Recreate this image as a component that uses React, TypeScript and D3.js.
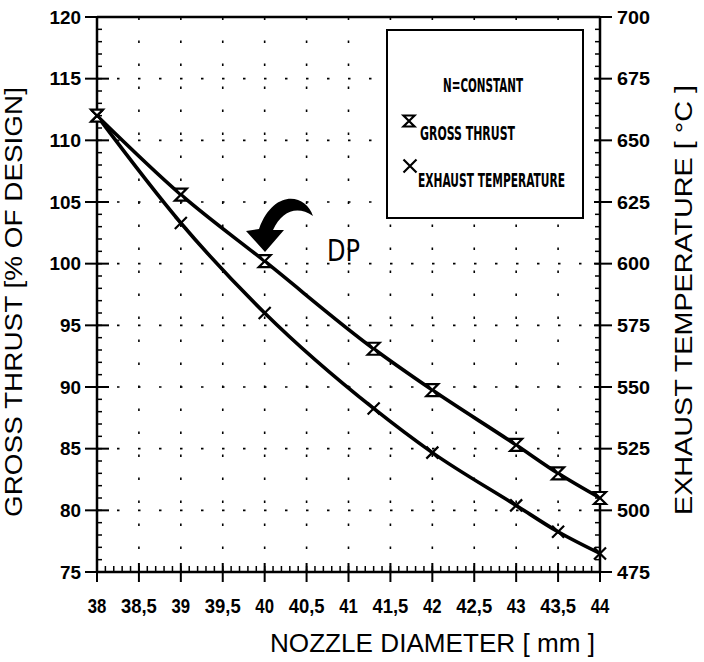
import * as d3 from "d3";

// nozzle diameter [mm] where the markers sit
const thrustX = [38, 39, 40, 41.3, 42, 43, 43.5, 44];
const thrustVal = [112, 105.6, 100.2, 93.1, 89.75, 85.3, 83.0, 81.0]; // % of design
const tempX = [38, 39, 40, 41.3, 42, 43, 43.5, 44];
const tempVal = [660, 616.5, 580, 541.3, 523.4, 502, 491.3, 482.5]; // °C

const xTicks = [38, 38.5, 39, 39.5, 40, 40.5, 41, 41.5, 42, 42.5, 43, 43.5, 44];
const leftTicks = [75, 80, 85, 90, 95, 100, 105, 110, 115, 120];
const rightTicks = [475, 500, 525, 550, 575, 600, 625, 650, 675, 700];

const W = 704;
const H = 662;
const PLOT = { left: 97, right: 600, top: 17, bottom: 572 };
const FONT = "'Liberation Sans', Arial, Helvetica, sans-serif";
const NARROW = "'Liberation Sans Narrow', 'DejaVu Sans Condensed', 'Arial Narrow', sans-serif";

const x = d3.scaleLinear().domain([38, 44]).range([PLOT.left, PLOT.right]);
const yL = d3.scaleLinear().domain([75, 120]).range([PLOT.bottom, PLOT.top]);
const yR = d3.scaleLinear().domain([475, 700]).range([PLOT.bottom, PLOT.top]);

const fmtX = (v: number) => String(v).replace(".", ",");
// label width: digits are narrow in the original, commas take a little room
const xLabelLen = (s: string) => s.replace(",", "").length * 9.3 + (s.includes(",") ? 8 : 0);

function Hourglass({ cx, cy, s = 6 }: { cx: number; cy: number; s?: number }) {
  const d = `M${cx - s},${cy - s} L${cx + s},${cy - s} L${cx},${cy} Z M${cx - s},${cy + s} L${cx + s},${cy + s} L${cx},${cy} Z`;
  return <path d={d} fill="white" stroke="black" strokeWidth={2.2} />;
}

function Cross({ cx, cy, s = 6 }: { cx: number; cy: number; s?: number }) {
  const d = `M${cx - s},${cy - s} L${cx + s},${cy + s} M${cx + s},${cy - s} L${cx - s},${cy + s}`;
  return <path d={d} stroke="black" strokeWidth={2.2} fill="none" />;
}

export default function App() {
  const thrustPts = thrustX.map((v, i) => [x(v), yL(thrustVal[i])] as [number, number]);
  const tempPts = tempX.map((v, i) => [x(v), yR(tempVal[i])] as [number, number]);
  const line = d3.line().curve(d3.curveMonotoneX);

  const minorX = d3.range(380, 441).map((v) => v / 10);
  const minorL = d3.range(75, 121);
  const minorR = d3.range(475, 701, 5);

  return (
    <svg width={W} height={H} style={{ display: "block", position: "absolute", left: 0, top: 0, background: "#fff" }}>
      {/* dotted grid */}
      <g stroke="black" strokeWidth={1.6}>
        {xTicks.slice(1, -1).map((t) => (
          <line key={"gx" + t} x1={x(t)} x2={x(t)} y1={PLOT.bottom} y2={PLOT.top} strokeDasharray="2.5 20.5" />
        ))}
        {leftTicks.slice(1, -1).map((t) => (
          <line key={"gy" + t} x1={PLOT.left} x2={PLOT.right} y1={yL(t)} y2={yL(t)} strokeDasharray="2.5 18.5" strokeDashoffset={-20} />
        ))}
      </g>

      {/* frame */}
      <g stroke="black" strokeWidth={2.5} fill="none">
        <line x1={PLOT.left} x2={PLOT.right} y1={PLOT.top} y2={PLOT.top} />
        <line x1={PLOT.left} x2={PLOT.right} y1={PLOT.bottom} y2={PLOT.bottom} />
        <line x1={PLOT.left} x2={PLOT.left} y1={PLOT.top} y2={PLOT.bottom} />
        <line x1={PLOT.right} x2={PLOT.right} y1={PLOT.top} y2={PLOT.bottom} />
      </g>

      {/* axis ticks */}
      <g stroke="black" strokeWidth={1.5}>
        {minorX.map((t) => (
          <line key={"mx" + t} x1={x(t)} x2={x(t)} y1={PLOT.bottom} y2={PLOT.bottom - 6} />
        ))}
        {xTicks.map((t) => (
          <line key={"tx" + t} x1={x(t)} x2={x(t)} y1={PLOT.bottom - 9} y2={PLOT.bottom + 10} strokeWidth={2} />
        ))}
        {minorL.map((t) => (
          <line key={"ml" + t} x1={PLOT.left} x2={PLOT.left + 5} y1={yL(t)} y2={yL(t)} />
        ))}
        {leftTicks.map((t) => (
          <line key={"tl" + t} x1={PLOT.left - 12} x2={PLOT.left + 12} y1={yL(t)} y2={yL(t)} strokeWidth={2} />
        ))}
        {minorR.map((t) => (
          <line key={"mr" + t} x1={PLOT.right} x2={PLOT.right - 5} y1={yR(t)} y2={yR(t)} />
        ))}
        {rightTicks.map((t) => (
          <line key={"tr" + t} x1={PLOT.right - 6} x2={PLOT.right + 12} y1={yR(t)} y2={yR(t)} strokeWidth={2} />
        ))}
      </g>

      {/* tick labels */}
      <g fontFamily={FONT} fontWeight="bold" fill="black">
        {xTicks.map((t) => (
          <text
            key={"lx" + t}
            x={x(t)}
            y={613}
            fontSize={19.5}
            textAnchor="middle"
            textLength={xLabelLen(fmtX(t))}
            lengthAdjust="spacingAndGlyphs"
          >
            {fmtX(t)}
          </text>
        ))}
        {leftTicks.map((t) => (
          <text
            key={"ll" + t}
            x={81}
            y={yL(t) + 6.5}
            fontSize={18}
            textAnchor="end"
            textLength={String(t).length * 10.5}
            lengthAdjust="spacingAndGlyphs"
          >
            {t}
          </text>
        ))}
        {rightTicks.map((t) => (
          <text
            key={"lr" + t}
            x={617}
            y={yR(t) + 6.5}
            fontSize={18}
            textAnchor="start"
            textLength={33}
            lengthAdjust="spacingAndGlyphs"
          >
            {t}
          </text>
        ))}
      </g>

      {/* axis titles */}
      <g fontFamily={FONT} fill="black" fontSize={23}>
        <text x={270} y={652} fontSize={26} textLength={325} lengthAdjust="spacingAndGlyphs">
          NOZZLE DIAMETER [ mm ]
        </text>
        <text transform="translate(22,302) rotate(-90)" textAnchor="middle" textLength={430} lengthAdjust="spacingAndGlyphs">
          GROSS THRUST [% OF DESIGN]
        </text>
        <text transform="translate(692,300) rotate(-90)" textAnchor="middle" textLength={430} lengthAdjust="spacingAndGlyphs">
          EXHAUST TEMPERATURE [ °C ]
        </text>
      </g>

      {/* curves */}
      <path d={line(thrustPts) ?? ""} fill="none" stroke="black" strokeWidth={3.6} />
      <path d={line(tempPts) ?? ""} fill="none" stroke="black" strokeWidth={3.6} />
      {thrustPts.map(([px, py], i) => (
        <Hourglass key={"h" + i} cx={px} cy={py} />
      ))}
      {tempPts.map(([px, py], i) => (
        <Cross key={"c" + i} cx={px} cy={py} />
      ))}

      {/* design point arrow */}
      <path
        d="M313,216 C306,194 274,188 259,229 L246,231 L265,252 L284,230 L273,230 C282,211 297,205 313,216 Z"
        fill="black"
      />
      <text x={327} y={261} fontFamily={NARROW} fontSize={30} textLength={33} lengthAdjust="spacingAndGlyphs">
        DP
      </text>

      {/* legend */}
      <rect x={387} y={30} width={196} height={188} fill="white" stroke="black" strokeWidth={2} />
      <g fontFamily={NARROW} fontWeight="bold" fontSize={19} fill="black">
        <text x={443} y={92} textLength={80} lengthAdjust="spacingAndGlyphs">
          N=CONSTANT
        </text>
        <text x={420} y={140} textLength={95} lengthAdjust="spacingAndGlyphs">
          GROSS THRUST
        </text>
        <text x={418} y={187} textLength={147} lengthAdjust="spacingAndGlyphs">
          EXHAUST TEMPERATURE
        </text>
      </g>
      <Hourglass cx={409} cy={121} s={5.5} />
      <Cross cx={410} cy={166} s={6.5} />
    </svg>
  );
}
